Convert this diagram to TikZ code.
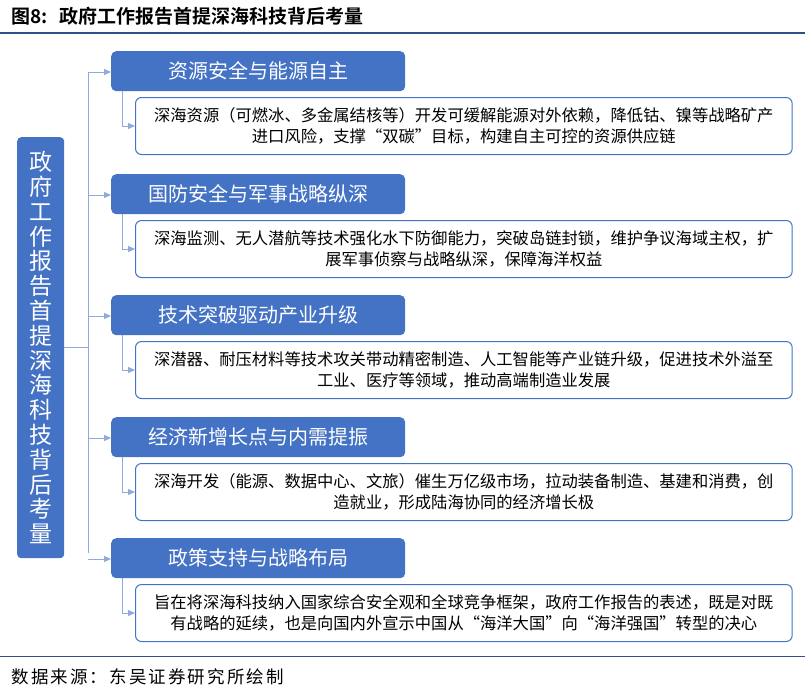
\documentclass[tikz,border=0pt]{standalone}
\usepackage{fontspec}
\setmainfont{Noto Sans CJK SC}
\newfontfamily\titlefont{Noto Sans CJK SC Bold}
\newfontfamily\srcfont[LetterSpace=12]{Noto Sans CJK SC}
\usetikzlibrary{arrows.meta,positioning}
\definecolor{hdblue}{HTML}{4472C4}
\definecolor{lnblue}{HTML}{8FAADC}
\tikzset{
  head/.style={rounded corners=5pt,fill=hdblue,text=white,minimum width=294pt,minimum height=40pt,font=\fontsize{20}{22}\selectfont,anchor=north west},
  desc/.style={rounded corners=6pt,draw=hdblue,line width=1pt,fill=white,minimum width=652pt,minimum height=57pt,align=center,font=\fontsize{16.3}{20.5}\selectfont,anchor=north west,text width=650pt},
  link/.style={draw=lnblue,line width=1pt,-{Triangle[length=7pt,width=6pt]},shorten >=0pt}
}
\begin{document}
\begin{tikzpicture}[x=1pt,y=-1pt]
  \useasboundingbox (0,0) rectangle (805,694);
  \node[anchor=west,font=\titlefont\fontsize{19}{21}\selectfont] (title) at (8,16) {图8:\hspace{0.6em}政府工作报告首提深海科技背后考量};
  \draw[hdblue!70!black,line width=1.5pt] (0,33) -- (805,33);
  \draw[hdblue!70!black,line width=1pt] (0,656) -- (805,656);
  \node[anchor=west,font=\srcfont\fontsize{17.5}{19}\selectfont] (src) at (8,677) {数据来源：东吴证券研究所绘制};

  \node[rounded corners=4pt,fill=hdblue,text=white,minimum width=47pt,minimum height=421pt,anchor=north west,
        font=\fontsize{23}{24.8}\selectfont,align=center] (main) at (17,137)
        {政\\府\\工\\作\\报\\告\\首\\提\\深\\海\\科\\技\\背\\后\\考\\量};
  \coordinate (trunk) at (88,347);
  \draw[lnblue,line width=1pt] (main.east |- trunk) -- (trunk);
  \draw[lnblue,line width=1pt] (88,72) -- (88,553);

  \foreach \i/\y/\hd/\tx in {
    1/51/资源安全与能源自主/{深海资源（可燃冰、多金属结核等）开发可缓解能源对外依赖，降低钴、镍等战略矿产\\进口风险，支撑“双碳”目标，构建自主可控的资源供应链},
    2/174/国防安全与军事战略纵深/{深海监测、无人潜航等技术强化水下防御能力，突破岛链封锁，维护争议海域主权，扩\\展军事侦察与战略纵深，保障海洋权益},
    3/295/技术突破驱动产业升级/{深潜器、耐压材料等技术攻关带动精密制造、人工智能等产业链升级，促进技术外溢至\\工业、医疗等领域，推动高端制造业发展},
    4/417/经济新增长点与内需提振/{深海开发（能源、数据中心、文旅）催生万亿级市场，拉动装备制造、基建和消费，创\\造就业，形成陆海协同的经济增长极},
    5/538/政策支持与战略布局/{旨在将深海科技纳入国家综合安全观和全球竞争框架，政府工作报告的表述，既是对既\\有战略的延续，也是向国内外宣示中国从“海洋大国”向“海洋强国”转型的决心}} {
    \node[head] (h\i) at (111,\y) {\hd};
    \node[desc] (d\i) at (135,\y+46) {\tx};
    \draw[link] (88,\y+21) -- (h\i.west |- 0,\y+21);
    \draw[link] (122,\y+40) |- (d\i.west);
  }
\end{tikzpicture}
\end{document}
